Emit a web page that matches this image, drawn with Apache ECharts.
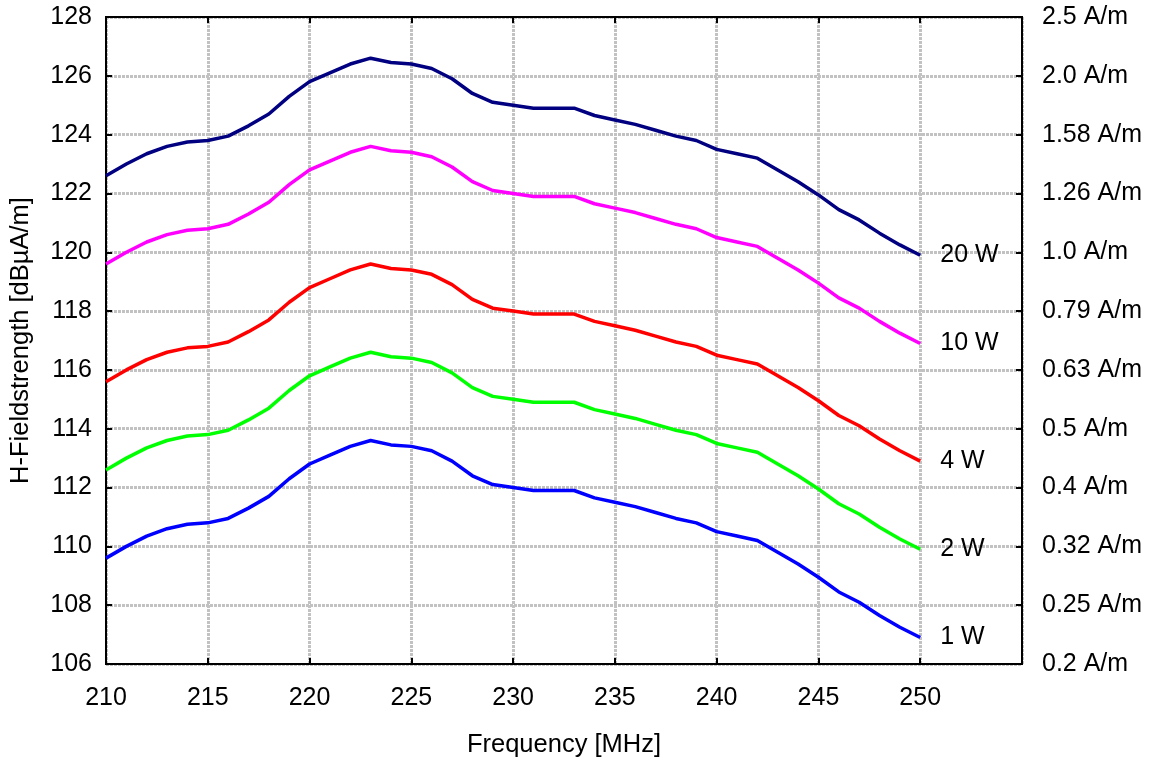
<!DOCTYPE html>
<html>
<head>
<meta charset="utf-8">
<script src="https://cdn.jsdelivr.net/npm/echarts@6/dist/echarts.min.js"></script>
<style>html,body{margin:0;padding:0;background:#fff;}#c{width:1154px;height:763px;}</style>
</head>
<body>
<div id="c"></div>
<script>
const freq = [210,211,212,213,214,215,216,217,218,219,220,221,222,223,224,225,226,227,228,229,230,231,232,233,234,235,236,237,238,239,240,241,242,243,244,245,246,247,248,249,250];
const w20 = [122.6,123.0,123.35,123.6,123.75,123.8,123.95,124.3,124.7,125.3,125.8,126.1,126.4,126.6,126.45,126.4,126.25,125.9,125.4,125.1,125.0,124.9,124.9,124.9,124.65,124.5,124.35,124.15,123.95,123.8,123.5,123.35,123.2,122.8,122.4,121.95,121.45,121.1,120.65,120.25,119.9];
const w10 = [119.6,120.0,120.35,120.6,120.75,120.8,120.95,121.3,121.7,122.3,122.8,123.1,123.4,123.6,123.45,123.4,123.25,122.9,122.4,122.1,122.0,121.9,121.9,121.9,121.65,121.5,121.35,121.15,120.95,120.8,120.5,120.35,120.2,119.8,119.4,118.95,118.45,118.1,117.65,117.25,116.9];
const w4 = [115.6,116.0,116.35,116.6,116.75,116.8,116.95,117.3,117.7,118.3,118.8,119.1,119.4,119.6,119.45,119.4,119.25,118.9,118.4,118.1,118.0,117.9,117.9,117.9,117.65,117.5,117.35,117.15,116.95,116.8,116.5,116.35,116.2,115.8,115.4,114.95,114.45,114.1,113.65,113.25,112.9];
const w2 = [112.6,113.0,113.35,113.6,113.75,113.8,113.95,114.3,114.7,115.3,115.8,116.1,116.4,116.6,116.45,116.4,116.25,115.9,115.4,115.1,115.0,114.9,114.9,114.9,114.65,114.5,114.35,114.15,113.95,113.8,113.5,113.35,113.2,112.8,112.4,111.95,111.45,111.1,110.65,110.25,109.9];
const w1 = [109.6,110.0,110.35,110.6,110.75,110.8,110.95,111.3,111.7,112.3,112.8,113.1,113.4,113.6,113.45,113.4,113.25,112.9,112.4,112.1,112.0,111.9,111.9,111.9,111.65,111.5,111.35,111.15,110.95,110.8,110.5,110.35,110.2,109.8,109.4,108.95,108.45,108.1,107.65,107.25,106.9];
const seriesNames = ['20 W','10 W','4 W','2 W','1 W'];
const seriesColors = ['#000080','#ff00ff','#ff0000','#00ff00','#0000ff'];
const rightTicks = [106,108,110,112,114,116,118,120,122,124,126,128];
const rightLabels = ['0.2 A/m','0.25 A/m','0.32 A/m','0.4 A/m','0.5 A/m','0.63 A/m','0.79 A/m','1.0 A/m','1.26 A/m','1.58 A/m','2.0 A/m','2.5 A/m'];

const FONT = 'Liberation Sans, Arial, sans-serif';
const FS = 25;
const allData = [w20,w10,w4,w2,w1];

const chart = echarts.init(document.getElementById('c'), null, {renderer:'canvas'});
const gridStyle = {type:[3,1], color:'#c2c2c2', width:3};
chart.setOption({
  animation:false,
  backgroundColor:'#fff',
  grid:{left:106,right:132,top:17,bottom:98,show:true,borderColor:'#000',borderWidth:2,backgroundColor:'transparent'},
  xAxis:[{
    type:'value',min:210,max:255,interval:5,
    name:'Frequency [MHz]',nameLocation:'middle',nameGap:68,
    nameTextStyle:{fontFamily:FONT,fontSize:FS+0.5,color:'#000'},
    axisLine:{lineStyle:{color:'#000',width:2}},
    axisTick:{inside:true,length:6,lineStyle:{color:'#000',width:2}},
    axisLabel:{fontFamily:FONT,fontSize:FS,color:'#000',margin:22,
      formatter:v=> v===255?'':String(v)},
    splitLine:{show:true,lineStyle:gridStyle}
  },{
    type:'value',min:210,max:255,interval:5,position:'top',
    axisLine:{lineStyle:{color:'#000',width:2}},
    axisTick:{inside:true,length:6,lineStyle:{color:'#000',width:2}},
    axisLabel:{show:false},splitLine:{show:false}
  }],
  yAxis:[{
    type:'value',min:106,max:128,interval:2,
    name:'H-Fieldstrength [dBµA/m]',nameLocation:'middle',nameGap:72,nameRotate:90,
    nameTextStyle:{fontFamily:FONT,fontSize:FS+0.5,color:'#000'},
    axisLine:{show:true,lineStyle:{color:'#000',width:2}},
    axisTick:{show:true,inside:true,length:6,lineStyle:{color:'#000',width:2}},
    axisLabel:{fontFamily:FONT,fontSize:FS,color:'#000',margin:14},
    splitLine:{show:true,lineStyle:gridStyle}
  },{
    type:'value',min:106,max:128,interval:2,position:'right',
    axisLine:{show:true,lineStyle:{color:'#000',width:2}},
    axisTick:{show:true,inside:true,length:6,lineStyle:{color:'#000',width:2}},
    axisLabel:{fontFamily:FONT,fontSize:FS,color:'#000',margin:20,
      formatter:v=>{const i=rightTicks.indexOf(Math.round(v));return i>=0?rightLabels[i]:'';}},
    splitLine:{show:false}
  }],
  series: allData.map((d,k)=>({
    type:'line',name:seriesNames[k],
    data:freq.map((f,i)=>[f,d[i]]),
    showSymbol:false,symbol:'none',
    lineStyle:{color:seriesColors[k],width:3.5},
    itemStyle:{color:seriesColors[k]},
    endLabel:{show:true,formatter:seriesNames[k],distance:20,
      fontFamily:FONT,fontSize:FS,color:'#000'},
    z:3
  }))
});
</script>
</body>
</html>
